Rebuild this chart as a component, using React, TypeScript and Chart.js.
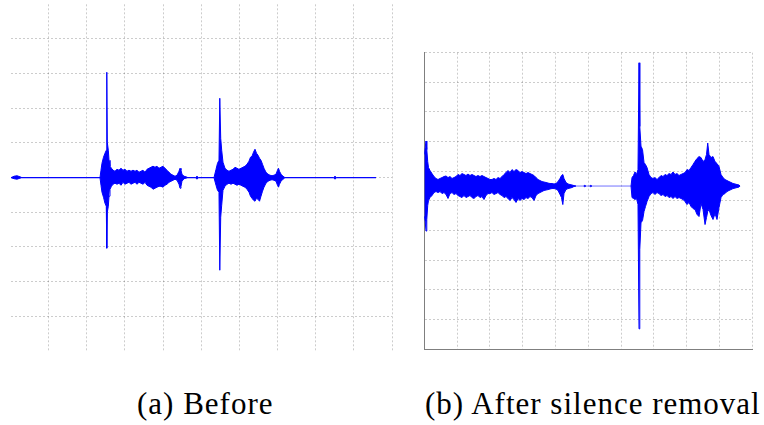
import React, { useEffect, useRef } from "react";
import { Chart, registerables } from "chart.js";

Chart.register(...registerables);

// ---------- (a) Before : time (grid units) and upper / lower envelope ----------
const beforeTime = [
  0.013, 0.092, 0.17, 0.249, 0.301,
  2.346, 2.372, 2.398, 2.438, 2.477, 2.511, 2.524, 2.537, 2.564, 2.582, 2.608, 2.647, 2.687, 2.739, 2.792,
  2.844, 2.896, 2.949, 3.001, 3.054, 3.106, 3.159, 3.211, 3.264, 3.316, 3.368, 3.421, 3.473, 3.526, 3.578,
  3.63, 3.683, 3.735, 3.788, 3.84, 3.893, 3.945, 3.997, 4.05, 4.102, 4.155, 4.207, 4.26, 4.312, 4.365,
  4.417, 4.443, 4.469, 4.495, 4.548, 4.6, 4.653,
  4.849, 4.888, 4.928,
  5.334, 5.387, 5.426, 5.465, 5.486, 5.51, 5.536, 5.57, 5.622, 5.675, 5.727, 5.78, 5.832, 5.885, 5.937,
  5.989, 6.042, 6.094, 6.147, 6.199, 6.252, 6.291, 6.33, 6.37, 6.409, 6.448, 6.488, 6.527, 6.566, 6.606,
  6.645, 6.697, 6.75, 6.802, 6.855, 6.907, 6.96, 6.999, 7.025, 7.051, 7.091, 7.143, 7.195,
  8.467, 8.506, 8.545, 9.581,
];
const beforeUpper = [
  0, 0.008, 0.011, 0.005, 0,
  0, 0.043, 0.083, 0.118, 0.141, 0.158, 0.608, 0.204, 0.158, 0.1, 0.066, 0.054, 0.043, 0.037, 0.048,
  0.043, 0.054, 0.043, 0.048, 0.037, 0.043, 0.037, 0.043, 0.037, 0.043, 0.031, 0.037, 0.043, 0.031, 0.048,
  0.054, 0.06, 0.066, 0.06, 0.066, 0.054, 0.06, 0.066, 0.054, 0.043, 0.031, 0.02, 0.014, 0.008, 0.014,
  0.037, 0.054, 0.043, 0.02, 0.008, 0.005, 0,
  0, 0.008, 0,
  0, 0.048, 0.083, 0.1, 0.458, 0.227, 0.158, 0.089, 0.054, 0.043, 0.037, 0.043, 0.048, 0.06, 0.054,
  0.048, 0.054, 0.06, 0.066, 0.077, 0.095, 0.118, 0.123, 0.147, 0.164, 0.141, 0.129, 0.112, 0.1, 0.077,
  0.054, 0.031, 0.02, 0.014, 0.011, 0.014, 0.02, 0.043, 0.054, 0.037, 0.02, 0.008, 0,
  0, 0.008, 0, 0,
];
const beforeLower = [
  0, -0.006, -0.009, -0.003, 0,
  0, -0.044, -0.084, -0.113, -0.148, -0.165, -0.407, -0.2, -0.165, -0.107, -0.067, -0.05, -0.038, -0.032, -0.038,
  -0.032, -0.044, -0.027, -0.038, -0.032, -0.027, -0.038, -0.032, -0.027, -0.038, -0.027, -0.032, -0.038, -0.027, -0.044,
  -0.05, -0.055, -0.067, -0.061, -0.055, -0.05, -0.05, -0.055, -0.044, -0.038, -0.027, -0.021, -0.015, -0.009, -0.015,
  -0.038, -0.061, -0.05, -0.021, -0.006, -0.003, 0,
  0, -0.009, 0,
  0, -0.044, -0.073, -0.084, -0.534, -0.228, -0.159, -0.073, -0.05, -0.038, -0.032, -0.038, -0.032, -0.038, -0.044,
  -0.038, -0.044, -0.05, -0.055, -0.067, -0.084, -0.107, -0.119, -0.13, -0.136, -0.119, -0.125, -0.136, -0.107, -0.078,
  -0.055, -0.032, -0.021, -0.015, -0.012, -0.015, -0.021, -0.044, -0.055, -0.038, -0.021, -0.009, 0,
  0, -0.009, 0, 0,
];

// ---------- (b) After silence removal ----------
const afterTime = [
  0, 0.027, 0.052, 0.076, 0.104, 0.128, 0.174, 0.235, 0.296, 0.357, 0.418, 0.479, 0.54, 0.601, 0.662,
  0.723, 0.784, 0.845, 0.906, 0.966, 1.027, 1.088, 1.149, 1.21, 1.271, 1.332, 1.393, 1.454, 1.515, 1.576,
  1.637, 1.698, 1.759, 1.82, 1.881, 1.942, 2.003, 2.064, 2.125, 2.186, 2.247, 2.308, 2.369, 2.43, 2.491,
  2.552, 2.613, 2.674, 2.735, 2.796, 2.857, 2.918, 2.979, 3.04, 3.101, 3.162, 3.223, 3.284, 3.345, 3.406,
  3.467, 3.528, 3.589, 3.65, 3.711, 3.772, 3.833, 3.894, 3.955, 4.016, 4.077, 4.137, 4.183, 4.223, 4.259,
  4.32, 4.381, 4.442, 4.503, 4.564, 4.625,
  4.86, 4.893, 4.926, 5.043, 5.076, 5.109,
  6.302, 6.333, 6.378, 6.424, 6.47, 6.515, 6.546, 6.57, 6.607, 6.653, 6.699, 6.744, 6.79, 6.851, 6.912,
  6.973, 7.034, 7.095, 7.156, 7.217, 7.278, 7.339, 7.4, 7.461, 7.522, 7.583, 7.644, 7.705, 7.766, 7.827,
  7.888, 7.949, 8.01, 8.071, 8.132, 8.193, 8.254, 8.315, 8.376, 8.437, 8.498, 8.559, 8.604, 8.641, 8.68,
  8.741, 8.802, 8.863, 8.924, 8.985, 9.046, 9.107, 9.168, 9.229, 9.29, 9.351, 9.412, 9.473, 9.534, 9.595,
  9.626,
];
const afterUpper = [
  0.213, 0.26, 0.304, 0.246, 0.165, 0.125, 0.105, 0.084, 0.064, 0.051, 0.044, 0.051, 0.057, 0.064, 0.068,
  0.057, 0.064, 0.051, 0.057, 0.064, 0.078, 0.071, 0.084, 0.078, 0.071, 0.081, 0.071, 0.078, 0.071, 0.064,
  0.071, 0.064, 0.071, 0.064, 0.057, 0.051, 0.044, 0.044, 0.051, 0.044, 0.057, 0.051, 0.064, 0.078, 0.091,
  0.105, 0.091, 0.111, 0.098, 0.111, 0.105, 0.091, 0.098, 0.091, 0.084, 0.091, 0.084, 0.078, 0.071, 0.057,
  0.044, 0.037, 0.03, 0.027, 0.024, 0.02, 0.017, 0.017, 0.014, 0.017, 0.03, 0.051, 0.071, 0.078, 0.051,
  0.024, 0.014, 0.01, 0.007, 0.003, 0,
  0, 0.005, 0, 0, 0.005, 0,
  0, 0.057, 0.071, 0.095, 0.078, 0.111, 0.832, 0.402, 0.269, 0.246, 0.159, 0.145, 0.125, 0.078, 0.057,
  0.051, 0.057, 0.044, 0.057, 0.071, 0.064, 0.078, 0.071, 0.084, 0.078, 0.095, 0.078, 0.084, 0.071, 0.078,
  0.084, 0.091, 0.111, 0.105, 0.125, 0.145, 0.167, 0.186, 0.199, 0.192, 0.165, 0.179, 0.213, 0.29, 0.213,
  0.192, 0.199, 0.165, 0.152, 0.132, 0.078, 0.057, 0.044, 0.037, 0.03, 0.024, 0.017, 0.014, 0.01, 0.007,
  0,
];
const afterLower = [
  -0.204, -0.24, -0.304, -0.226, -0.132, -0.098, -0.078, -0.064, -0.044, -0.037, -0.044, -0.037, -0.051, -0.044, -0.057,
  -0.084, -0.051, -0.044, -0.057, -0.051, -0.064, -0.071, -0.078, -0.064, -0.078, -0.071, -0.064, -0.078, -0.084, -0.071,
  -0.064, -0.078, -0.071, -0.091, -0.064, -0.051, -0.051, -0.044, -0.057, -0.051, -0.044, -0.057, -0.064, -0.078, -0.071,
  -0.084, -0.098, -0.078, -0.091, -0.111, -0.084, -0.098, -0.084, -0.091, -0.078, -0.084, -0.071, -0.078, -0.098, -0.064,
  -0.051, -0.044, -0.037, -0.03, -0.027, -0.024, -0.02, -0.017, -0.017, -0.02, -0.03, -0.057, -0.078, -0.125, -0.051,
  -0.024, -0.017, -0.014, -0.01, -0.003, 0,
  0, -0.005, 0, 0, -0.005, 0,
  0, -0.078, -0.084, -0.091, -0.084, -0.125, -0.964, -0.429, -0.248, -0.233, -0.172, -0.138, -0.105, -0.071, -0.051,
  -0.044, -0.057, -0.044, -0.051, -0.064, -0.057, -0.071, -0.064, -0.078, -0.071, -0.084, -0.071, -0.084, -0.078, -0.084,
  -0.091, -0.105, -0.125, -0.111, -0.138, -0.152, -0.159, -0.192, -0.206, -0.118, -0.159, -0.26, -0.213, -0.172, -0.159,
  -0.199, -0.226, -0.186, -0.226, -0.145, -0.078, -0.057, -0.051, -0.037, -0.03, -0.024, -0.017, -0.014, -0.01, -0.007,
  0,
];

// ---------- grid ticks ----------
const timeTicks = [0, 1, 2, 3, 4, 5, 6, 7, 8, 9, 10];
const beforeAmpTicks = [-1, -0.8, -0.6, -0.4, -0.2, 0, 0.2, 0.4, 0.6, 0.8, 1];
const afterAmpTicks = [-1.1, -0.9, -0.7, -0.5, -0.3, -0.1, 0.1, 0.3, 0.5, 0.7, 0.9];

const captionBefore = "(a) Before";
const captionAfter = "(b) After silence removal";

const BLUE = "#0000ff";
const GRID = "rgba(0,0,0,0.2)";
const AXIS = "#7f7f7f";

type WaveProps = {
  time: number[];
  upper: number[];
  lower: number[];
  yTicks: number[];
  openFrame: boolean;
  quietColor: string;
  left: number;
  top: number;
  width: number;
  height: number;
  padding: { left: number; top: number; right: number; bottom: number };
};

function Wave(props: WaveProps) {
  const ref = useRef<HTMLCanvasElement>(null);
  useEffect(() => {
    const canvas = ref.current;
    if (!canvas) return;
    const pts = (vals: number[]) => props.time.map((t, i) => ({ x: t, y: vals[i] }));
    const quiet = (ctx: any) =>
      ctx.p0.parsed.y === 0 && ctx.p1.parsed.y === 0 ? props.quietColor : BLUE;
    const xt = timeTicks;
    const yt = props.yTicks;
    const gridColorX = (c: any) => (props.openFrame && c.index === 0 ? "rgba(0,0,0,0)" : GRID);
    const gridColorY = (c: any) =>
      props.openFrame && (c.index === 0 || c.index === yt.length - 1) ? "rgba(0,0,0,0)" : GRID;
    const chart = new Chart(canvas, {
      type: "line",
      data: {
        datasets: [
          {
            data: pts(props.upper),
            borderColor: BLUE,
            backgroundColor: BLUE,
            borderWidth: 1,
            pointRadius: 0,
            tension: 0,
            fill: "+1",
            segment: { borderColor: quiet },
          },
          {
            data: pts(props.lower),
            borderColor: BLUE,
            backgroundColor: BLUE,
            borderWidth: 1,
            pointRadius: 0,
            tension: 0,
            fill: false,
            segment: { borderColor: quiet },
          },
        ],
      },
      options: {
        responsive: false,
        animation: false,
        events: [],
        layout: { autoPadding: false, padding: props.padding },
        plugins: {
          legend: { display: false },
          tooltip: { enabled: false },
          title: { display: false },
        },
        scales: {
          x: {
            type: "linear",
            min: xt[0],
            max: xt[xt.length - 1],
            afterBuildTicks: (s: any) => {
              s.ticks = xt.map((v) => ({ value: v }));
            },
            ticks: { display: false },
            grid: { color: gridColorX, drawTicks: false, lineWidth: 1 },
            border: { display: !props.openFrame, color: AXIS, width: 1, dash: [2, 2] },
          },
          y: {
            type: "linear",
            min: yt[0],
            max: yt[yt.length - 1],
            afterBuildTicks: (s: any) => {
              s.ticks = yt.map((v) => ({ value: v }));
            },
            ticks: { display: false },
            grid: { color: gridColorY, drawTicks: false, lineWidth: 1 },
            border: { display: !props.openFrame, color: AXIS, width: 1, dash: [2, 2] },
          },
        },
      } as any,
    });
    return () => chart.destroy();
  }, []);
  return (
    <canvas
      ref={ref}
      width={props.width}
      height={props.height}
      style={{
        position: "absolute",
        left: props.left,
        top: props.top,
        width: props.width,
        height: props.height,
      }}
    />
  );
}

const captionStyle: React.CSSProperties = {
  position: "absolute",
  top: 388,
  fontFamily: "'Liberation Serif', 'DejaVu Serif', 'Times New Roman', serif",
  fontSize: "31px",
  lineHeight: "31px",
  letterSpacing: "1px",
  whiteSpace: "nowrap",
  color: "#000",
};

export default function App() {
  return (
    <div
      style={{
        position: "absolute",
        left: 0,
        top: 0,
        width: 764,
        height: 425,
        background: "#fff",
        overflow: "hidden",
      }}
    >
      <Wave
        time={beforeTime}
        upper={beforeUpper}
        lower={beforeLower}
        yTicks={beforeAmpTicks}
        openFrame={true}
        quietColor={BLUE}
        left={6}
        top={0}
        width={392}
        height={356}
        padding={{ left: 4.5, top: 4.3, right: 6, bottom: 5 }}
      />
      <Wave
        time={afterTime}
        upper={afterUpper}
        lower={afterLower}
        yTicks={afterAmpTicks}
        openFrame={false}
        quietColor={"rgba(0,0,255,0.3)"}
        left={420}
        top={48}
        width={340}
        height={306}
        padding={{ left: 4.3, top: 4.7, right: 7.7, bottom: 5 }}
      />
      <div style={{ ...captionStyle, left: 137 }}>{captionBefore}</div>
      <div style={{ ...captionStyle, left: 425 }}>{captionAfter}</div>
    </div>
  );
}
